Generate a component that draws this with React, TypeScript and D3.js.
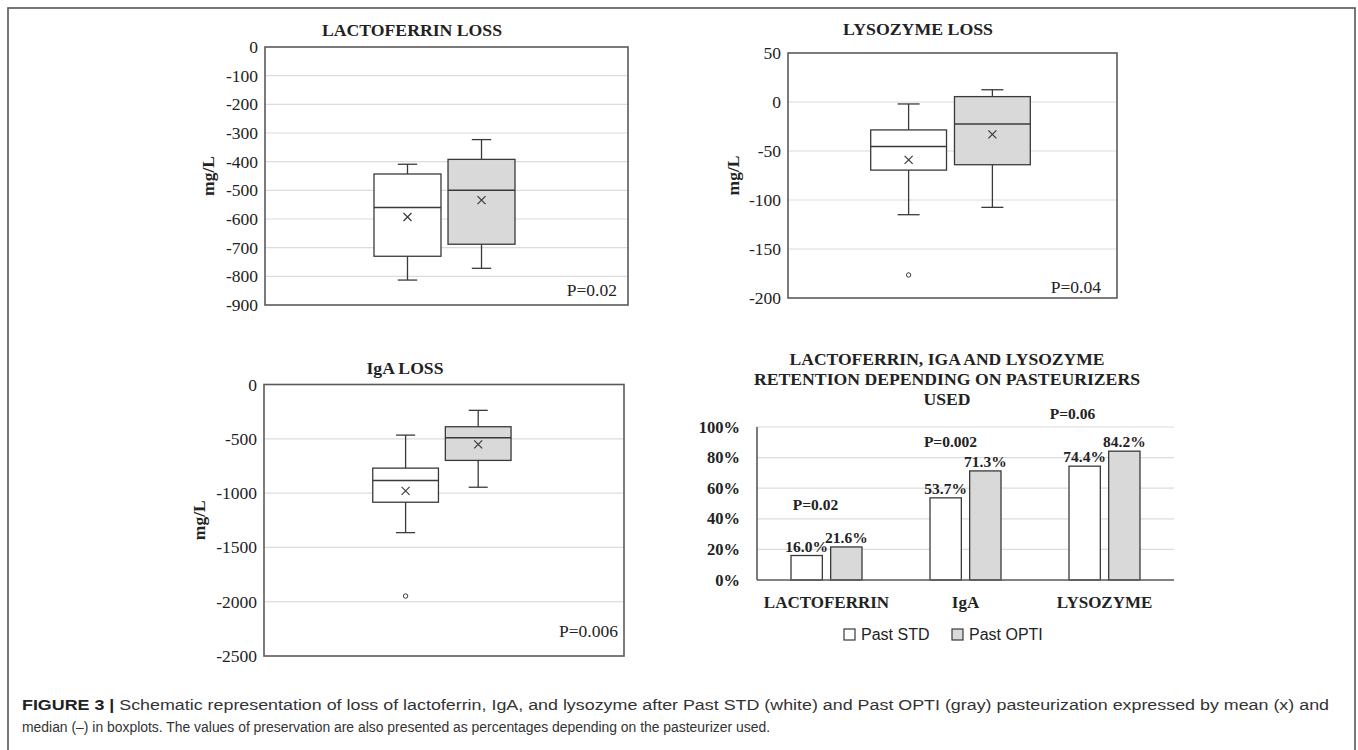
import React from "react";
import * as d3 from "d3";

// ---------- DATA ----------
const seriesNames = ["Past STD", "Past OPTI"];
const seriesFills = ["#ffffff", "#d9d9d9"];

// five-number summaries: [lower whisker, Q1, median, Q3, upper whisker]
const lactoferrinStd = [-813, -730, -560, -443, -409];
const lactoferrinOpti = [-772, -688, -500, -392, -323];
const lactoferrinMeans = [-593, -534];
const lactoferrinOutliers = [[], []];
const lactoferrinTicks = [0, -100, -200, -300, -400, -500, -600, -700, -800, -900];

const lysozymeStd = [-115, -69.5, -45.5, -28.5, -2];
const lysozymeOpti = [-107.5, -64, -22.5, 5.5, 12.5];
const lysozymeMeans = [-59, -33];
const lysozymeOutliers = [[-176.5], []];
const lysozymeTicks = [50, 0, -50, -100, -150, -200];

const igaStd = [-1364, -1084, -884, -770, -466];
const igaOpti = [-946, -699, -491, -389, -238];
const igaMeans = [-980, -552];
const igaOutliers = [[-1948], []];
const igaTicks = [0, -500, -1000, -1500, -2000, -2500];

const retentionCategories = ["LACTOFERRIN", "IgA", "LYSOZYME"];
const retentionStd = [16.0, 53.7, 74.4];
const retentionOpti = [21.6, 71.3, 84.2];
const retentionP = ["P=0.02", "P=0.002", "P=0.06"];
const retentionTicks = [0, 20, 40, 60, 80, 100];

const SERIF = "'Liberation Serif', 'Times New Roman', serif";
const SANS = "'Liberation Sans', Arial, sans-serif";

type BoxProps = {
  title: string;
  titleX: number;
  titleY: number;
  titleLen: number;
  left: number;
  right: number;
  top: number;
  bottom: number;
  ticks: number[];
  stats: number[][];
  means: number[];
  outliers: number[][];
  groupCenter: number;
  groupWidth: number;
  pText: string;
  pX: number;
  pY: number;
  labelX: number;
};

function BoxPanel(p: BoxProps) {
  const y = d3
    .scaleLinear()
    .domain([d3.min(p.ticks)!, d3.max(p.ticks)!])
    .range([p.bottom, p.top]);
  const x = d3
    .scaleBand()
    .domain(seriesNames)
    .range([p.groupCenter - p.groupWidth / 2, p.groupCenter + p.groupWidth / 2])
    .paddingInner(0.095);
  const bw = x.bandwidth();
  const capW = bw * 0.29;
  const stroke = "#3a3a3a";
  return (
    <g>
      <text
        x={p.titleX}
        y={p.titleY}
        textAnchor="middle"
        fontFamily={SERIF}
        fontWeight="bold"
        fontSize={16.5}
        textLength={p.titleLen}
        lengthAdjust="spacingAndGlyphs"
        fill="#222"
      >
        {p.title}
      </text>
      {p.ticks.map((t) => (
        <g key={t}>
          {t !== d3.min(p.ticks) && t !== d3.max(p.ticks) && (
            <line x1={p.left} x2={p.right} y1={y(t)} y2={y(t)} stroke="#dcdcdc" strokeWidth={1.2} />
          )}
          <text
            x={p.left - 7}
            y={y(t)}
            textAnchor="end"
            dominantBaseline="central"
            fontFamily={SERIF}
            fontSize={17.5}
            fill="#222"
          >
            {t}
          </text>
        </g>
      ))}
      <rect
        x={p.left}
        y={p.top}
        width={p.right - p.left}
        height={p.bottom - p.top}
        fill="none"
        stroke="#5a5a5a"
        strokeWidth={1.6}
      />
      <text
        transform={`translate(${p.labelX},${(p.top + p.bottom) / 2}) rotate(-90)`}
        textAnchor="middle"
        dominantBaseline="central"
        fontFamily={SERIF}
        fontWeight="bold"
        fontSize={17.5}
        fill="#222"
      >
        mg/L
      </text>
      {seriesNames.map((s, i) => {
        const [lo, q1, med, q3, hi] = p.stats[i];
        const x0 = x(s)!;
        const cx = x0 + bw / 2;
        const m = p.means[i];
        return (
          <g key={s}>
            <line x1={cx} x2={cx} y1={y(hi)} y2={y(q3)} stroke={stroke} strokeWidth={1.3} />
            <line x1={cx} x2={cx} y1={y(q1)} y2={y(lo)} stroke={stroke} strokeWidth={1.3} />
            <line x1={cx - capW / 2} x2={cx + capW / 2} y1={y(hi)} y2={y(hi)} stroke={stroke} strokeWidth={1.3} />
            <line x1={cx - capW / 2} x2={cx + capW / 2} y1={y(lo)} y2={y(lo)} stroke={stroke} strokeWidth={1.3} />
            <rect
              x={x0}
              y={y(q3)}
              width={bw}
              height={y(q1) - y(q3)}
              fill={seriesFills[i]}
              stroke={stroke}
              strokeWidth={1.3}
            />
            <line x1={x0} x2={x0 + bw} y1={y(med)} y2={y(med)} stroke={stroke} strokeWidth={1.5} />
            <line x1={cx - 4} x2={cx + 4} y1={y(m) - 4} y2={y(m) + 4} stroke={stroke} strokeWidth={1.2} />
            <line x1={cx - 4} x2={cx + 4} y1={y(m) + 4} y2={y(m) - 4} stroke={stroke} strokeWidth={1.2} />
            {p.outliers[i].map((o, k) => (
              <circle key={k} cx={cx} cy={y(o)} r={2.2} fill="#fff" stroke={stroke} strokeWidth={1} />
            ))}
          </g>
        );
      })}
      <text x={p.pX} y={p.pY} textAnchor="end" fontFamily={SERIF} fontSize={17.5} fill="#222">
        {p.pText}
      </text>
    </g>
  );
}

function RetentionChart() {
  const left = 757;
  const right = 1174;
  const top = 427;
  const bottom = 580;
  const y = d3.scaleLinear().domain([0, 100]).range([bottom, top]);
  const x = d3.scaleBand().domain(retentionCategories).range([left, right]);
  const bandW = x.bandwidth();
  const inner = d3
    .scaleBand()
    .domain(seriesNames)
    .range([bandW / 2 - 35.5, bandW / 2 + 35.5])
    .paddingInner(0.21);
  const values = [retentionStd, retentionOpti];
  const pDx = [-11, -15, -32];
  const pYVal = [45.8, 86.9, 105.2];
  const titleLines = [
    { t: "LACTOFERRIN, IGA AND LYSOZYME", y: 365, len: 315 },
    { t: "RETENTION DEPENDING ON PASTEURIZERS", y: 385, len: 386 },
    { t: "USED", y: 405, len: 47 },
  ];
  const stroke = "#3a3a3a";
  return (
    <g>
      {titleLines.map((l) => (
        <text
          key={l.t}
          x={947}
          y={l.y}
          textAnchor="middle"
          fontFamily={SERIF}
          fontWeight="bold"
          fontSize={16.5}
          textLength={l.len}
          lengthAdjust="spacingAndGlyphs"
          fill="#222"
        >
          {l.t}
        </text>
      ))}
      {retentionTicks.map((t) => (
        <g key={t}>
          {t > 0 && <line x1={left} x2={right} y1={y(t)} y2={y(t)} stroke="#dcdcdc" strokeWidth={1.2} />}
          <text
            x={left - 17}
            y={y(t)}
            textAnchor="end"
            dominantBaseline="central"
            fontFamily={SERIF}
            fontWeight="bold"
            fontSize={16.5}
            fill="#222"
          >
            {t}%
          </text>
        </g>
      ))}
      <line x1={left} x2={left} y1={top} y2={bottom} stroke="#5a5a5a" strokeWidth={1.6} />
      {retentionCategories.map((c, ci) => (
        <g key={c}>
          {seriesNames.map((s, si) => {
            const v = values[si][ci];
            const bx = x(c)! + inner(s)!;
            return (
              <g key={s}>
                <rect
                  x={bx}
                  y={y(v)}
                  width={inner.bandwidth()}
                  height={bottom - y(v)}
                  fill={seriesFills[si]}
                  stroke={stroke}
                  strokeWidth={1.3}
                />
                <text
                  x={bx + inner.bandwidth() / 2}
                  y={y(v) - 4}
                  textAnchor="middle"
                  fontFamily={SERIF}
                  fontWeight="bold"
                  fontSize={15.5}
                  fill="#222"
                >
                  {v.toFixed(1)}%
                </text>
              </g>
            );
          })}
          <text
            x={x(c)! + bandW / 2}
            y={608}
            textAnchor="middle"
            fontFamily={SERIF}
            fontWeight="bold"
            fontSize={17}
            fill="#222"
          >
            {c}
          </text>
          <text
            x={x(c)! + bandW / 2 + pDx[ci]}
            y={y(pYVal[ci])}
            textAnchor="middle"
            fontFamily={SERIF}
            fontWeight="bold"
            fontSize={15.5}
            fill="#222"
          >
            {retentionP[ci]}
          </text>
        </g>
      ))}
      <line x1={left} x2={right} y1={bottom} y2={bottom} stroke="#5a5a5a" strokeWidth={1.6} />
      {seriesNames.map((s, i) => {
        const lx = [844, 952][i];
        return (
          <g key={s}>
            <rect x={lx} y={629} width={11} height={11} fill={seriesFills[i]} stroke={stroke} strokeWidth={1.2} />
            <text x={lx + 17} y={640} fontFamily={SANS} fontSize={16} fill="#222">
              {s}
            </text>
          </g>
        );
      })}
    </g>
  );
}

export default function App() {
  return (
    <svg
      width={1358}
      height={750}
      style={{ position: "absolute", left: 0, top: 0, background: "#fff" }}
    >
      <rect x={0} y={0} width={1358} height={750} fill="#fff" />
      <rect x={8} y={8} width={1347} height={760} fill="none" stroke="#555" strokeWidth={1.6} />
      <BoxPanel
        title="LACTOFERRIN LOSS"
        titleX={412}
        titleY={36}
        titleLen={180}
        left={265}
        right={628}
        top={47}
        bottom={305}
        ticks={lactoferrinTicks}
        stats={[lactoferrinStd, lactoferrinOpti]}
        means={lactoferrinMeans}
        outliers={lactoferrinOutliers}
        groupCenter={444.5}
        groupWidth={141}
        pText="P=0.02"
        pX={617}
        pY={296}
        labelX={208}
      />
      <BoxPanel
        title="LYSOZYME LOSS"
        titleX={918}
        titleY={35}
        titleLen={150}
        left={788}
        right={1117}
        top={53}
        bottom={298}
        ticks={lysozymeTicks}
        stats={[lysozymeStd, lysozymeOpti]}
        means={lysozymeMeans}
        outliers={lysozymeOutliers}
        groupCenter={950.5}
        groupWidth={159.6}
        pText="P=0.04"
        pX={1101}
        pY={293}
        labelX={733}
      />
      <BoxPanel
        title="IgA LOSS"
        titleX={405}
        titleY={374}
        titleLen={77}
        left={264}
        right={624}
        top={384.5}
        bottom={656}
        ticks={igaTicks}
        stats={[igaStd, igaOpti]}
        means={igaMeans}
        outliers={igaOutliers}
        groupCenter={441.9}
        groupWidth={138.3}
        pText="P=0.006"
        pX={618}
        pY={637}
        labelX={199}
      />
      <RetentionChart />
      <text
        x={22}
        y={710}
        fontFamily={SANS}
        fontSize={15.5}
        fill="#333"
        textLength={1307}
        lengthAdjust="spacingAndGlyphs"
      >
        <tspan fontWeight="bold" fill="#222">FIGURE 3 | </tspan>
        Schematic representation of loss of lactoferrin, IgA, and lysozyme after Past STD (white) and Past OPTI
        (gray) pasteurization expressed by mean (x) and
      </text>
      <text
        x={22}
        y={732}
        fontFamily={SANS}
        fontSize={15.5}
        fill="#333"
        textLength={748}
        lengthAdjust="spacingAndGlyphs"
      >
        median (–) in boxplots. The values of preservation are also presented as percentages depending on the
        pasteurizer used.
      </text>
    </svg>
  );
}
